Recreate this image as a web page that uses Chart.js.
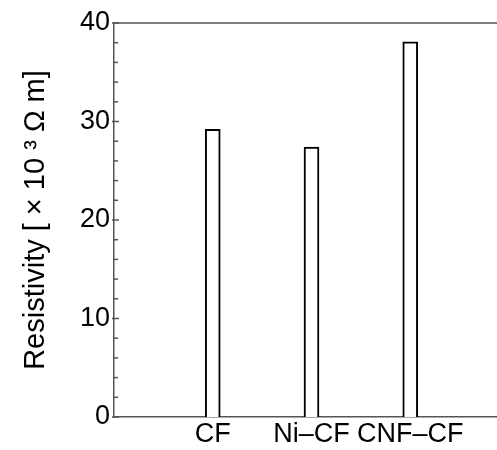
<!DOCTYPE html>
<html>
<head>
<meta charset="utf-8">
<script src="https://cdn.jsdelivr.net/npm/chart.js@4"></script>
<style>
    html, body { margin: 0; padding: 0; background: #fff; overflow: hidden; }
    #wrap { width: 510px; height: 450px; }
</style>
</head>
<body>
<div id="wrap"><canvas id="barChart"></canvas></div>
<script>
// Data
const categories = ['CF', 'Ni–CF', 'CNF–CF'];
const resistivity = [29.2, 27.4, 38.1];
const yTicks = [0, 10, 20, 30, 40];
const yMinorStep = 2;
const yTitle = 'Resistivity [ × 10 ³ Ω m]';

const axisColor = '#555';
const fontFamily = '"Liberation Sans", Arial, sans-serif';

// Inward minor ticks, crossing major ticks and the top frame line
const frameTicks = {
    id: 'frameTicks',
    afterDraw(chart) {
        const { ctx, chartArea } = chart;
        const y = chart.scales.y;
        const x0 = chartArea.left;
        ctx.save();
        ctx.strokeStyle = axisColor;
        ctx.lineWidth = 1.5;

        // top frame line
        ctx.beginPath();
        ctx.moveTo(x0, chartArea.top);
        ctx.lineTo(chartArea.right, chartArea.top);
        ctx.stroke();

        for (let v = y.min; v <= y.max; v += yMinorStep) {
            const py = y.getPixelForValue(v);
            const major = yTicks.includes(v);
            ctx.beginPath();
            ctx.moveTo(major ? x0 - 2 : x0, py);
            ctx.lineTo(major ? x0 + 5 : x0 + 4, py);
            ctx.stroke();
        }
        ctx.restore();
    }
};

const chart = new Chart(document.getElementById('barChart').getContext('2d'), {
    type: 'bar',
    data: {
        labels: ['', ...categories, ''],
        datasets: [{
            label: 'Resistivity',
            data: [null, ...resistivity, null],
            backgroundColor: '#fff',
            borderColor: '#000',
            borderWidth: 2,
            barThickness: 15
        }]
    },
    options: {
        responsive: true,
        maintainAspectRatio: false,
        animation: false,
        layout: { padding: { top: 23, right: 0, left: 0, bottom: 0 } },
        plugins: {
            legend: { display: false },
            tooltip: { enabled: false }
        },
        scales: {
            x: {
                type: 'category',
                offset: false,
                grid: { display: false, drawTicks: false },
                border: { display: true, color: axisColor, width: 1.5 },
                ticks: {
                    autoSkip: false,
                    maxRotation: 0,
                    padding: 1,
                    color: '#000',
                    font: { family: fontFamily, size: 27 }
                },
                afterFit(scale) { scale.height = 33; }
            },
            y: {
                min: 0,
                max: 40,
                grid: { display: false, drawTicks: false },
                border: { display: true, color: axisColor, width: 1.5 },
                afterBuildTicks(scale) {
                    scale.ticks = yTicks.map(v => ({ value: v }));
                },
                ticks: {
                    padding: 4,
                    color: '#000',
                    font: { family: fontFamily, size: 27 }
                },
                title: {
                    display: true,
                    text: yTitle,
                    color: '#000',
                    padding: { top: 19, bottom: 0 },
                    font: { family: fontFamily, size: 29 }
                },
                afterFit(scale) { scale.width = 114; }
            }
        }
    },
    plugins: [frameTicks]
});
</script>
</body>
</html>
